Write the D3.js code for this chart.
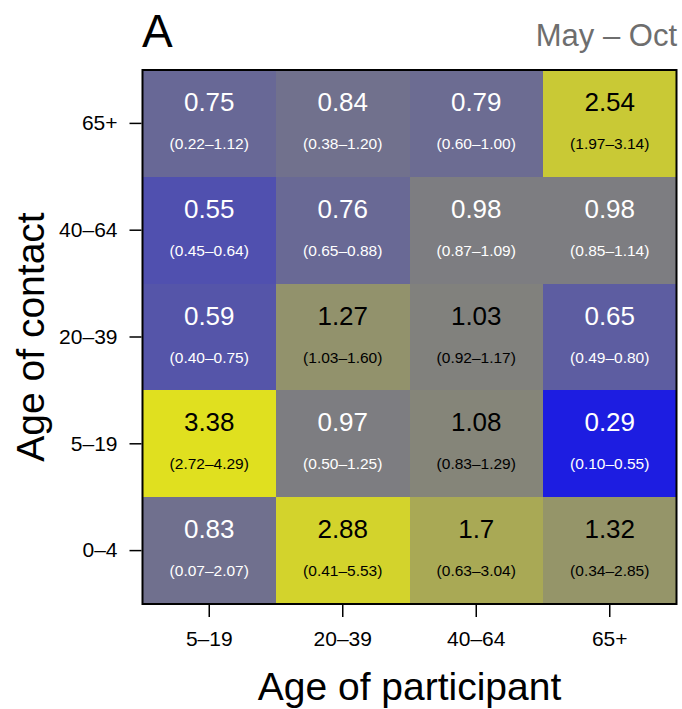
<!DOCTYPE html>
<html>
<head>
<meta charset="utf-8">
<script src="https://cdn.jsdelivr.net/npm/d3@7"></script>
<style>
  html, body { margin: 0; padding: 0; background: #fff; }
  svg { display: block; font-family: "Liberation Sans", Arial, Helvetica, sans-serif; }
</style>
</head>
<body>
<svg id="chart" width="682" height="709"></svg>
<script>
// Participant age groups (columns) and contact age groups (rows, bottom to top)
const participantAges = ["5\u201319", "20\u201339", "40\u201364", "65+"];
const contactAges = ["0\u20134", "5\u201319", "20\u201339", "40\u201364", "65+"];

// Ratio estimates, one row per contact age group (same order as contactAges)
const ratios = [
  [0.83, 2.88, 1.7, 1.32],
  [3.38, 0.97, 1.08, 0.29],
  [0.59, 1.27, 1.03, 0.65],
  [0.55, 0.76, 0.98, 0.98],
  [0.75, 0.84, 0.79, 2.54]
];
const ratioLabels = [
  ["0.83", "2.88", "1.7", "1.32"],
  ["3.38", "0.97", "1.08", "0.29"],
  ["0.59", "1.27", "1.03", "0.65"],
  ["0.55", "0.76", "0.98", "0.98"],
  ["0.75", "0.84", "0.79", "2.54"]
];
// 95% intervals
const lower = [
  [0.07, 0.41, 0.63, 0.34],
  [2.72, 0.50, 0.83, 0.10],
  [0.40, 1.03, 0.92, 0.49],
  [0.45, 0.65, 0.87, 0.85],
  [0.22, 0.38, 0.60, 1.97]
];
const upper = [
  [2.07, 5.53, 3.04, 2.85],
  [4.29, 1.25, 1.29, 0.55],
  [0.75, 1.60, 1.17, 0.80],
  [0.64, 0.88, 1.09, 1.14],
  [1.12, 1.20, 1.00, 3.14]
];

const panelLabel = "A";
const periodLabel = "May \u2013 Oct";
const xTitle = "Age of participant";
const yTitle = "Age of contact";

const svg = d3.select("#chart");
const box = { left: 142.5, right: 676.5, top: 70, bottom: 604 };

const x = d3.scaleBand().domain(participantAges).range([box.left, box.right]);
const y = d3.scaleBand().domain(contactAges).range([box.bottom, box.top]);

// Diverging colour on a log scale: blue below 1, grey at 1, yellow above 1
const color = d3.scaleLog()
  .domain([0.2, 1, 5])
  .range(["#0000ff", "#7f7f7f", "#ffff00"])
  .interpolate(d3.interpolateRgb)
  .clamp(true);

const cells = [];
contactAges.forEach((c, i) => {
  participantAges.forEach((p, j) => {
    cells.push({
      contact: c, participant: p,
      value: ratios[i][j], label: ratioLabels[i][j],
      lo: lower[i][j], hi: upper[i][j]
    });
  });
});

const fmt = d3.format(".2f");

const g = svg.append("g");
g.selectAll("rect.cell")
  .data(cells)
  .enter().append("rect")
  .attr("class", "cell")
  .attr("x", d => x(d.participant))
  .attr("y", d => y(d.contact))
  .attr("width", x.bandwidth())
  .attr("height", y.bandwidth())
  .attr("fill", d => color(d.value))
  .attr("shape-rendering", "crispEdges");

g.selectAll("text.val")
  .data(cells)
  .enter().append("text")
  .attr("class", "val")
  .attr("x", d => x(d.participant) + x.bandwidth() / 2)
  .attr("y", d => y(d.contact) + y.bandwidth() / 2 - 12.5)
  .attr("text-anchor", "middle")
  .attr("font-size", 26)
  .attr("fill", d => d.value < 1 ? "#ffffff" : "#000000")
  .text(d => d.label);

g.selectAll("text.ci")
  .data(cells)
  .enter().append("text")
  .attr("class", "ci")
  .attr("x", d => x(d.participant) + x.bandwidth() / 2)
  .attr("y", d => y(d.contact) + y.bandwidth() / 2 + 25.5)
  .attr("text-anchor", "middle")
  .attr("font-size", 15.5)
  .attr("fill", d => d.value < 1 ? "#ffffff" : "#000000")
  .text(d => "(" + fmt(d.lo) + "\u2013" + fmt(d.hi) + ")");

// Frame
svg.append("rect")
  .attr("x", box.left)
  .attr("y", box.top)
  .attr("width", box.right - box.left)
  .attr("height", box.bottom - box.top)
  .attr("fill", "none")
  .attr("stroke", "#000")
  .attr("stroke-width", 2);

// Axes
const xAxis = svg.append("g")
  .attr("transform", `translate(0,${box.bottom + 1})`)
  .call(d3.axisBottom(x).tickSize(12).tickPadding(14));
const yAxis = svg.append("g")
  .attr("transform", `translate(${box.left - 1},0)`)
  .call(d3.axisLeft(y).tickSize(12).tickPadding(12));

[xAxis, yAxis].forEach(a => {
  a.select(".domain").remove();
  a.selectAll(".tick line").attr("stroke", "#000").attr("stroke-width", 1.5);
  a.selectAll(".tick text")
    .attr("font-size", 21)
    .attr("fill", "#000")
    .attr("font-family", "'Liberation Sans', Arial, Helvetica, sans-serif");
});

// Titles
svg.append("text")
  .attr("x", (box.left + box.right) / 2)
  .attr("y", 700)
  .attr("text-anchor", "middle")
  .attr("font-size", 39)
  .text(xTitle);

svg.append("text")
  .attr("transform", `translate(44,${(box.top + box.bottom) / 2}) rotate(-90)`)
  .attr("text-anchor", "middle")
  .attr("font-size", 39)
  .text(yTitle);

svg.append("text")
  .attr("x", 142)
  .attr("y", 47)
  .attr("font-size", 46)
  .text(panelLabel);

svg.append("text")
  .attr("x", 677)
  .attr("y", 46)
  .attr("text-anchor", "end")
  .attr("font-size", 31)
  .attr("fill", "#6e6e6e")
  .text(periodLabel);
</script>
</body>
</html>
